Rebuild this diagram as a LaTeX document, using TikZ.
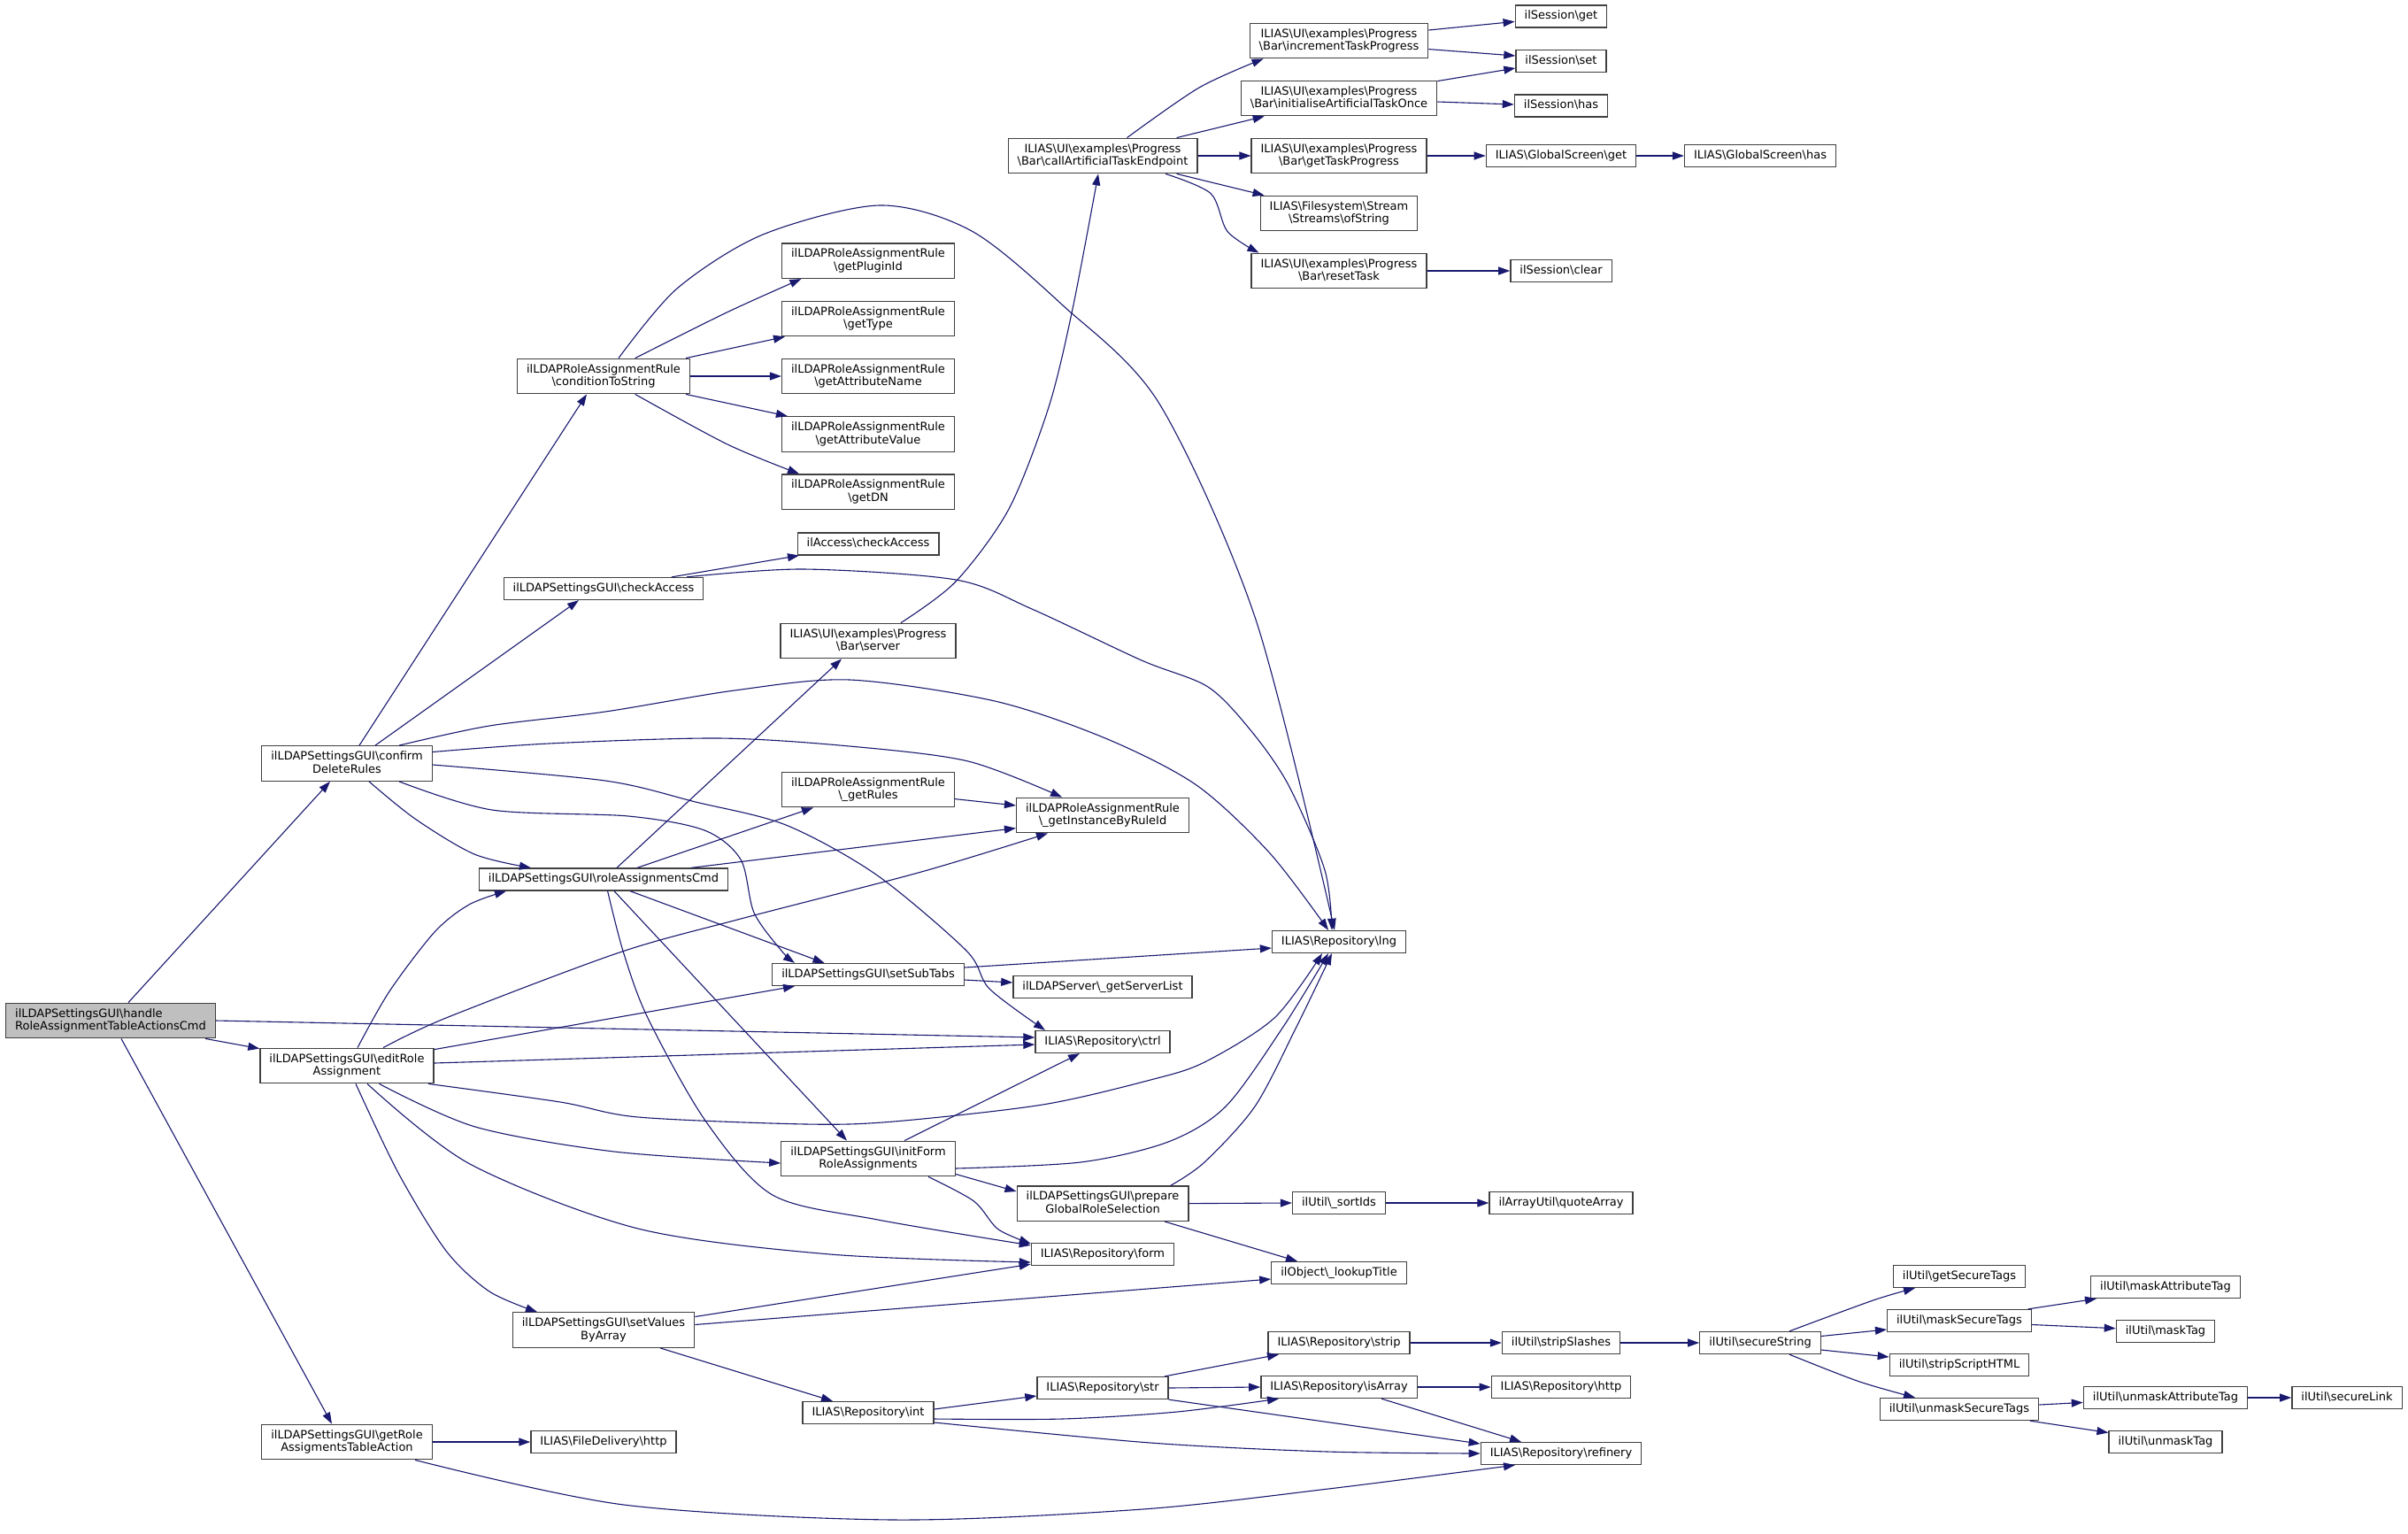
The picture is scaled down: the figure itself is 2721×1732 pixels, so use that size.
\documentclass[tikz,border=0pt]{standalone}
\usepackage{fontspec}
\setmainfont{DejaVu Sans}
\usetikzlibrary{arrows.meta}
\definecolor{edgec}{HTML}{191970}
\definecolor{rootfill}{HTML}{BFBFBF}
\definecolor{boxline}{HTML}{404040}
\newcommand\BSL{\textbackslash{}}
\newcommand\st{\rule[-3.7pt]{0pt}{14pt}}
\begin{document}
\begin{tikzpicture}[x=1pt,y=-1pt,
  fn/.style={draw=boxline, line width=1.3pt, fill=white, inner xsep=10.5pt, inner ysep=5.5pt, font=\fontsize{13}{14.5}\selectfont, align=center},
  root/.style={fn, fill=rootfill, align=left},
  cnx/.style={draw=edgec, line width=1.1pt, -{Triangle[length=13pt,width=9pt]}}
]
\fill[white] (0,0) rectangle (2721,1732);
\useasboundingbox (0,0) rectangle (2721,1732);
% column 0
\node[root] (handle) at (125,1153) {\st ilLDAPSettingsGUI\BSL handle\\\st RoleAssignmentTableActionsCmd};
% column 1
\node[fn] (confirm) at (392,862.5) {\st ilLDAPSettingsGUI\BSL confirm\\\st DeleteRules};
\node[fn] (editRole) at (392,1204) {\st ilLDAPSettingsGUI\BSL editRole\\\st Assignment};
\node[fn] (getRole) at (392,1629) {\st ilLDAPSettingsGUI\BSL getRole\\\st AssigmentsTableAction};
% column 2
\node[fn] (cts) at (682,425) {\st ilLDAPRoleAssignmentRule\\\st \BSL conditionToString};
\node[fn] (chk) at (682,665) {\st ilLDAPSettingsGUI\BSL checkAccess};
\node[fn] (rc) at (682,993.5) {\st ilLDAPSettingsGUI\BSL roleAssignmentsCmd};
\node[fn] (sv) at (682,1502.5) {\st ilLDAPSettingsGUI\BSL setValues\\\st ByArray};
\node[fn] (fdh) at (682,1629) {\st ILIAS\BSL FileDelivery\BSL http};
% column 3
\node[fn] (gpi) at (981,294.7) {\st ilLDAPRoleAssignmentRule\\\st \BSL getPluginId};
\node[fn] (gty) at (981,360) {\st ilLDAPRoleAssignmentRule\\\st \BSL getType};
\node[fn] (gan) at (981,425) {\st ilLDAPRoleAssignmentRule\\\st \BSL getAttributeName};
\node[fn] (gav) at (981,490.5) {\st ilLDAPRoleAssignmentRule\\\st \BSL getAttributeValue};
\node[fn] (gdn) at (981,555.6) {\st ilLDAPRoleAssignmentRule\\\st \BSL getDN};
\node[fn] (ila) at (981,614.4) {\st ilAccess\BSL checkAccess};
\node[fn] (srv) at (981,724) {\st ILIAS\BSL UI\BSL examples\BSL Progress\\\st \BSL Bar\BSL server};
\node[fn] (grl) at (981,892) {\st ilLDAPRoleAssignmentRule\\\st \BSL\_getRules};
\node[fn] (sst) at (981,1101) {\st ilLDAPSettingsGUI\BSL setSubTabs};
\node[fn] (ifr) at (981,1309) {\st ilLDAPSettingsGUI\BSL initForm\\\st RoleAssignments};
\node[fn] (int) at (981,1596) {\st ILIAS\BSL Repository\BSL int};
% column 4
\node[fn] (cat) at (1246,176) {\st ILIAS\BSL UI\BSL examples\BSL Progress\\\st \BSL Bar\BSL callArtificialTaskEndpoint};
\node[fn] (gi) at (1246,921) {\st ilLDAPRoleAssignmentRule\\\st \BSL\_getInstanceByRuleId};
\node[fn] (gsl) at (1246,1115) {\st ilLDAPServer\BSL\_getServerList};
\node[fn] (ctrl) at (1246,1177) {\st ILIAS\BSL Repository\BSL ctrl};
\node[fn] (pr) at (1246,1359.6) {\st ilLDAPSettingsGUI\BSL prepare\\\st GlobalRoleSelection};
\node[fn] (form) at (1246,1417) {\st ILIAS\BSL Repository\BSL form};
\node[fn] (str) at (1246,1568) {\st ILIAS\BSL Repository\BSL str};
% column 5
\node[fn] (it) at (1513,46) {\st ILIAS\BSL UI\BSL examples\BSL Progress\\\st \BSL Bar\BSL incrementTaskProgress};
\node[fn] (ini) at (1513,111) {\st ILIAS\BSL UI\BSL examples\BSL Progress\\\st \BSL Bar\BSL initialiseArtificialTaskOnce};
\node[fn] (gtp) at (1513,176) {\st ILIAS\BSL UI\BSL examples\BSL Progress\\\st \BSL Bar\BSL getTaskProgress};
\node[fn] (ofs) at (1513,241) {\st ILIAS\BSL Filesystem\BSL Stream\\\st \BSL Streams\BSL ofString};
\node[fn] (rt) at (1513,306) {\st ILIAS\BSL UI\BSL examples\BSL Progress\\\st \BSL Bar\BSL resetTask};
\node[fn] (lng) at (1513,1064) {\st ILIAS\BSL Repository\BSL lng};
\node[fn] (sid) at (1513,1359) {\st ilUtil\BSL\_sortIds};
\node[fn] (lt) at (1513,1438) {\st ilObject\BSL\_lookupTitle};
\node[fn] (strip) at (1513,1517) {\st ILIAS\BSL Repository\BSL strip};
\node[fn] (ia) at (1513,1567) {\st ILIAS\BSL Repository\BSL isArray};
% column 6
\node[fn] (sg) at (1764,18.4) {\st ilSession\BSL get};
\node[fn] (ss) at (1764,69) {\st ilSession\BSL set};
\node[fn] (sh) at (1764,119.5) {\st ilSession\BSL has};
\node[fn] (gsg) at (1764,176) {\st ILIAS\BSL GlobalScreen\BSL get};
\node[fn] (scl) at (1764,306) {\st ilSession\BSL clear};
\node[fn] (qa) at (1764,1359) {\st ilArrayUtil\BSL quoteArray};
\node[fn] (sls) at (1764,1517) {\st ilUtil\BSL stripSlashes};
\node[fn] (rh) at (1764,1567) {\st ILIAS\BSL Repository\BSL http};
\node[fn] (ref) at (1764,1642) {\st ILIAS\BSL Repository\BSL refinery};
% column 7
\node[fn] (gsh) at (1989,176) {\st ILIAS\BSL GlobalScreen\BSL has};
\node[fn] (secS) at (1989,1517) {\st ilUtil\BSL secureString};
% column 8
\node[fn] (gst) at (2214,1442) {\st ilUtil\BSL getSecureTags};
\node[fn] (mst) at (2214,1492) {\st ilUtil\BSL maskSecureTags};
\node[fn] (ssh) at (2214,1542) {\st ilUtil\BSL stripScriptHTML};
\node[fn] (ums) at (2214,1592) {\st ilUtil\BSL unmaskSecureTags};
% column 9
\node[fn] (mat) at (2447,1454) {\st ilUtil\BSL maskAttributeTag};
\node[fn] (mt) at (2447,1504) {\st ilUtil\BSL maskTag};
\node[fn] (uat) at (2447,1579) {\st ilUtil\BSL unmaskAttributeTag};
\node[fn] (ut) at (2447,1629) {\st ilUtil\BSL unmaskTag};
% column 10
\node[fn] (sl) at (2652,1579) {\st ilUtil\BSL secureLink};

% ---------- edges ----------
\draw[cnx] ([xshift=20pt]handle.north) -- ([xshift=-19pt]confirm.south);
\draw[cnx] ([xshift=107pt]handle.south) -- ([yshift=-1pt]editRole.north west);
\draw[cnx] ([xshift=12pt]handle.south) -- ([xshift=-17pt]getRole.north);
\draw[cnx] (handle.east) -- ([yshift=5pt]ctrl.west);

\draw[cnx] ([xshift=14pt]confirm.north) -- ([xshift=-19pt]cts.south);
\draw[cnx] ([xshift=32pt]confirm.north) -- ([xshift=-28pt]chk.south);
\draw[cnx] plot[smooth] coordinates {([xshift=59pt]confirm.north) (553,820) (684,804) (830,780) (960,768) (1124,792) (1249,834) (1352,887) (1435,964) ([xshift=-12pt]lng.north)};
\draw[cnx] plot[smooth] coordinates {([xshift=17pt]cts.north) (765,326) (862,265) (994,232) (1098,261) (1201,345) (1310,456) (1419,700) ([xshift=-5pt]lng.north)};
\draw[cnx] plot[smooth] coordinates {([xshift=94pt]chk.north) (908,643) (1080,655) (1166,688) (1290,746) (1365,776) (1414,826) (1456,887) (1497,983) ([xshift=-8pt]lng.north)};
\draw[cnx] plot[smooth] coordinates {([xshift=37pt]srv.north) (1080,657) (1140,575) (1185,460) (1212,349) ([xshift=-5pt]cat.south)};

\draw[cnx] plot[smooth] coordinates {([xshift=27.5pt]cat.north) (1355,99) ([xshift=16pt]it.south west)};
\draw[cnx] ([xshift=83.6pt]cat.north) -- ([xshift=27pt]ini.south west);
\draw[cnx] (cat.east) -- (gtp.west);
\draw[cnx] ([xshift=83.6pt]cat.south) -- ([xshift=5pt]ofs.north west);
\draw[cnx] plot[smooth] coordinates {([xshift=71pt]cat.south) (1368,218.5) (1387,261.5) ([xshift=9pt]rt.north west)};
\draw[cnx] ([yshift=12pt]it.east) -- ([yshift=-6pt]sg.west);
\draw[cnx] ([yshift=-9.6pt]it.east) -- ([yshift=6pt]ss.west);
\draw[cnx] ([yshift=-1pt]ini.north east) -- ([yshift=-8pt]ss.west);
\draw[cnx] ([yshift=-4pt]ini.east) -- ([yshift=1.5pt]sh.west);
\draw[cnx] (gtp.east) -- (gsg.west);
\draw[cnx] (gsg.east) -- (gsh.west);
\draw[cnx] (rt.east) -- (scl.west);

\draw[cnx] ([yshift=-10.6pt]grl.east) -- ([yshift=11pt]gi.west);
\draw[cnx] plot[smooth] coordinates {([yshift=13pt]confirm.east) (620,840) (812,834) (960,843) (1094,860) ([xshift=-46pt]gi.north)};
\draw[cnx] plot[smooth] coordinates {([yshift=-1.5pt]confirm.east) (684,882) (786,906) (888,932) (990,988) (1092,1074) (1118,1117) ([xshift=-65pt]ctrl.north)};
\draw[cnx] plot[smooth] coordinates {([xshift=59pt]confirm.south) (556,915) (710,922) (796,938) (837,971) (852,1031) (883,1074) ([xshift=-83pt]sst.north)};
\draw[cnx] plot[smooth] coordinates {([xshift=25pt]confirm.south) (469,925) (536,965) ([xshift=-82pt]rc.north)};

\draw[cnx] plot[smooth] coordinates {([xshift=12pt]editRole.north) (440,1120) (491,1053) (530,1022) ([xshift=-110pt]rc.south)};
\draw[cnx] plot[smooth] coordinates {([xshift=41pt]editRole.north) (504,1150) (700,1076) (837,1038) (1041,985) ([xshift=-62pt]gi.south)};
\draw[cnx] ([yshift=-2pt]editRole.north east) -- ([xshift=-83pt]sst.south);
\draw[cnx] ([yshift=3pt]editRole.east) -- ([yshift=-3pt]ctrl.west);
\draw[cnx] plot[smooth] coordinates {([xshift=92pt]editRole.south) (633,1245) (721,1262) (911,1270) (1010,1267) (1178,1248) (1300,1220) (1361,1200) (1440,1150) ([xshift=-19pt]lng.south)};
\draw[cnx] plot[smooth] coordinates {([xshift=36.5pt]editRole.south) (537,1273) (694,1301) ([yshift=-5pt]ifr.west)};
\draw[cnx] plot[smooth] coordinates {([xshift=23pt]editRole.south) (531,1315) (721,1388) (938,1417) ([yshift=-9pt]form.west)};
\draw[cnx] plot[smooth] coordinates {([xshift=10pt]editRole.south) (450,1325) (504,1413) (553,1459) ([xshift=-75pt]sv.north)};

\draw[cnx] ([xshift=15pt]rc.north) -- ([xshift=-30pt]srv.south);
\draw[cnx] ([xshift=38pt]rc.north) -- ([xshift=-62pt]grl.south);
\draw[cnx] ([xshift=99pt]rc.north) -- ([yshift=-14.6pt]gi.west);
\draw[cnx] ([xshift=30pt]rc.south) -- ([xshift=-49.5pt]sst.north);
\draw[cnx] ([xshift=12pt]rc.south) -- ([xshift=-24pt]ifr.north);
\draw[cnx] plot[smooth] coordinates {([xshift=4.6pt]rc.south) (704.5,1076) (732,1150) (797,1266) (873,1350) (992,1378) ([yshift=-3pt]form.north west)};

\draw[cnx] ([xshift=41pt]ifr.north) -- ([xshift=-26pt]ctrl.south);
\draw[cnx] plot[smooth] coordinates {([yshift=-11pt]ifr.east) (1221,1313) (1320,1290) (1385,1250) (1450,1160) ([xshift=-12pt]lng.south)};
\draw[cnx] plot[smooth] coordinates {([xshift=77pt]pr.north) (1361,1313) (1418,1250) (1465,1160) ([xshift=-8pt]lng.south)};
\draw[cnx] ([yshift=3pt]ifr.south east) -- ([yshift=13.6pt]pr.west);
\draw[cnx] plot[smooth] coordinates {([xshift=68pt]ifr.south) (1100.5,1357) (1127.6,1388.5) ([yshift=-1pt]form.north west)};
\draw[cnx] (pr.east) -- (sid.west);
\draw[cnx] (sid.east) -- (qa.west);
\draw[cnx] ([xshift=70pt]pr.south) -- ([xshift=-47pt]lt.north);

\draw[cnx] ([yshift=15pt]sv.east) -- ([yshift=2pt]form.south west);
\draw[cnx] ([yshift=6pt]sv.east) -- ([yshift=-7pt]lt.west);
\draw[cnx] ([xshift=64pt]sv.south) -- ([xshift=-40pt]int.north);

\draw[cnx] ([yshift=4pt]int.east) -- ([yshift=-9pt]str.west);
\draw[cnx] plot[smooth] coordinates {([yshift=-7pt]int.east) (1200,1603) (1330,1595) ([xshift=-68pt]ia.south)};
\draw[cnx] plot[smooth] coordinates {([yshift=-11pt]int.east) (1300,1630) (1500,1640) (ref.west)};
\draw[cnx] ([xshift=70pt]str.north) -- ([xshift=-68pt]strip.south);
\draw[cnx] (str.east) -- (ia.west);
\draw[cnx] (str.south east) -- ([yshift=11pt]ref.west);
\draw[cnx] (ia.east) -- (rh.west);
\draw[cnx] ([xshift=48pt]ia.south) -- ([xshift=-45pt]ref.north);
\draw[cnx] (strip.east) -- (sls.west);
\draw[cnx] (sls.east) -- (secS.west);

\draw[cnx] (getRole.east) -- (fdh.west);
\draw[cnx] plot[smooth] coordinates {([xshift=77pt]getRole.south) (705,1700) (1010,1717) (1291,1705) (1501,1682) ([xshift=-52pt]ref.south)};

\draw[cnx] ([yshift=8pt]sst.east) -- ([yshift=-7pt]lng.west);
\draw[cnx] ([yshift=-6pt]sst.east) -- ([yshift=5pt]gsl.west);
\draw[cnx] ([xshift=77pt]chk.north) -- ([xshift=-78pt]ila.south);

\draw[cnx] plot[smooth] coordinates {([xshift=35.7pt]cts.north) (822,352.6) ([xshift=-75.6pt]gpi.south)};
\draw[cnx] ([xshift=93pt]cts.north) -- ([xshift=4pt]gty.south west);
\draw[cnx] (cts.east) -- (gan.west);
\draw[cnx] ([xshift=93pt]cts.south) -- ([xshift=7pt]gav.north west);
\draw[cnx] plot[smooth] coordinates {([xshift=35.7pt]cts.south) (822,502) ([xshift=-78pt]gdn.north)};

\draw[cnx] plot[smooth] coordinates {([xshift=33pt]secS.north) (2116.6,1469) ([xshift=-50pt]gst.south)};
\draw[cnx] ([yshift=7.5pt]secS.east) -- ([yshift=-10pt]mst.west);
\draw[cnx] ([yshift=-8pt]secS.east) -- ([yshift=9pt]ssh.west);
\draw[cnx] plot[smooth] coordinates {([xshift=33pt]secS.south) (2100,1560.5) ([xshift=-50pt]ums.north)};
\draw[cnx] ([xshift=77.6pt]mst.north) -- ([xshift=-78pt]mat.south);
\draw[cnx] ([yshift=-4.5pt]mst.east) -- ([yshift=3.3pt]mt.west);
\draw[cnx] ([yshift=5pt]ums.east) -- ([yshift=-5.4pt]uat.west);
\draw[cnx] ([xshift=80pt]ums.south) -- ([yshift=10.5pt]ut.west);
\draw[cnx] (uat.east) -- (sl.west);
\end{tikzpicture}
\end{document}
